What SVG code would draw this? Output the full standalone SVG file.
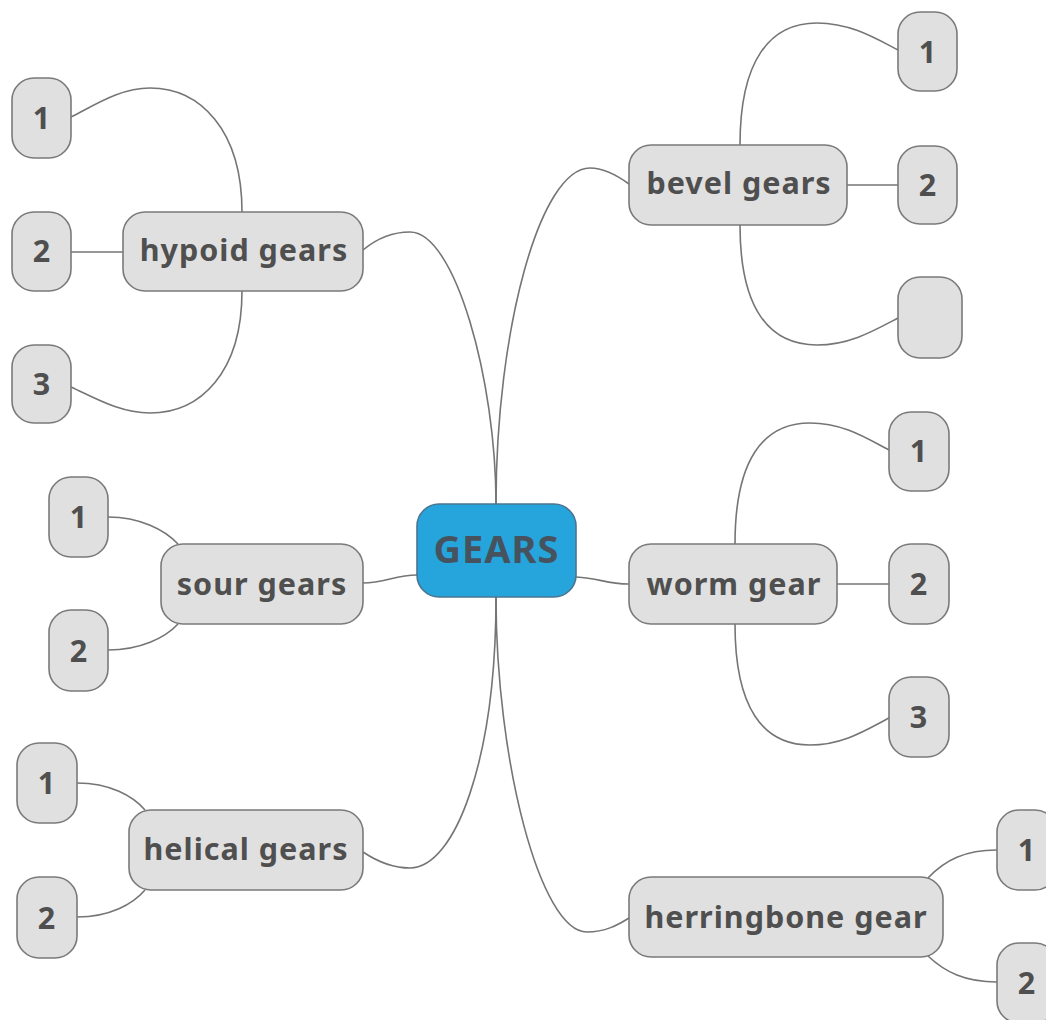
<svg xmlns="http://www.w3.org/2000/svg" width="1046" height="1020" viewBox="0 0 1046 1020">
<style>
.n rect{fill:#e0e0e0;stroke:#7a7a7a;stroke-width:1.6}
.n text{font-family:"Noto Sans","Open Sans",sans-serif;font-weight:bold;font-size:30.5px;fill:#4f4f4f;text-anchor:middle;letter-spacing:1px}
.c path{fill:none;stroke:#757575;stroke-width:1.6}
#gears rect{fill:#26a4dc;stroke:#4b7591;stroke-width:1.6}
#gears text{font-family:"Noto Sans","Open Sans",sans-serif;font-weight:bold;font-size:38px;fill:#46535f;text-anchor:middle;letter-spacing:1px}
</style>
<rect width="1046" height="1020" fill="#ffffff"/>
<g class="c" id="connectors">
<path d="M496,504 C496,380 455,232 410,232 C390,232 375,240 363,250"/>
<path d="M496,504 C496,330 540,168 590,168 C605,168 618,176 629,184"/>
<path d="M496,597 C496,760 455,868 410,868 C390,868 375,860 363,852"/>
<path d="M496,597 C496,760 540,932 587,932 C605,932 618,925 629,918"/>
<path d="M363,583 C385,583 395,575 417,575"/>
<path d="M576,577 C600,578 605,584 629,584"/>
<path d="M740,145 C740,60 770,23 817,23 C850,23 875,38 898,50"/>
<path d="M847,185 L898,185"/>
<path d="M740,225 C740,310 770,345 817,345 C850,345 875,330 898,318"/>
<path d="M242,212 C242,130 200,88 150,88 C120,88 95,105 71,117"/>
<path d="M71,252 L123,252"/>
<path d="M242,291 C242,373 200,413 150,413 C120,413 95,398 71,387"/>
<path d="M735,544 C735,460 763,423 810,423 C843,423 866,438 889,450"/>
<path d="M837,584 L889,584"/>
<path d="M735,624 C735,708 763,745 810,745 C843,745 866,730 889,718"/>
<path d="M108,517 C140,517 165,530 178,544"/>
<path d="M108,650 C140,650 165,638 178,624"/>
<path d="M77,783 C110,783 133,796 145,810"/>
<path d="M77,917 C110,917 133,904 145,890"/>
<path d="M928,878 C945,860 965,850 997,850"/>
<path d="M928,956 C945,972 965,982 997,982"/>
</g>
<g id="gears"><rect x="417" y="504" width="159" height="93" rx="22"/><text x="496.5" y="563">GEARS</text></g>
<g class="n" id="bevel"><rect x="629" y="145" width="218" height="80" rx="22"/><text x="739" y="194">bevel gears</text></g>
<g class="n" id="bevel-1"><rect x="898" y="12" width="59" height="79" rx="22"/><text x="928" y="63">1</text></g>
<g class="n" id="bevel-2"><rect x="898" y="146" width="59" height="78" rx="22"/><text x="928" y="196">2</text></g>
<g class="n" id="bevel-3"><rect x="898" y="277" width="64" height="81" rx="22"/></g>
<g class="n" id="hypoid"><rect x="123" y="212" width="240" height="79" rx="22"/><text x="244" y="261">hypoid gears</text></g>
<g class="n" id="hypoid-1"><rect x="12" y="78" width="59" height="80" rx="22"/><text x="42" y="129">1</text></g>
<g class="n" id="hypoid-2"><rect x="12" y="212" width="59" height="79" rx="22"/><text x="42" y="262">2</text></g>
<g class="n" id="hypoid-3"><rect x="12" y="345" width="59" height="78" rx="22"/><text x="42" y="395">3</text></g>
<g class="n" id="sour"><rect x="161" y="544" width="202" height="80" rx="22"/><text x="262" y="595">sour gears</text></g>
<g class="n" id="sour-1"><rect x="49" y="477" width="59" height="80" rx="22"/><text x="79" y="528">1</text></g>
<g class="n" id="sour-2"><rect x="49" y="610" width="59" height="81" rx="22"/><text x="79" y="662">2</text></g>
<g class="n" id="helical"><rect x="129" y="810" width="234" height="80" rx="22"/><text x="246" y="860">helical gears</text></g>
<g class="n" id="helical-1"><rect x="17" y="743" width="60" height="80" rx="22"/><text x="47" y="794">1</text></g>
<g class="n" id="helical-2"><rect x="17" y="877" width="60" height="81" rx="22"/><text x="47" y="929">2</text></g>
<g class="n" id="worm"><rect x="629" y="544" width="208" height="80" rx="22"/><text x="734" y="595">worm gear</text></g>
<g class="n" id="worm-1"><rect x="889" y="412" width="60" height="79" rx="22"/><text x="919" y="462">1</text></g>
<g class="n" id="worm-2"><rect x="889" y="544" width="60" height="80" rx="22"/><text x="919" y="595">2</text></g>
<g class="n" id="worm-3"><rect x="889" y="677" width="60" height="80" rx="22"/><text x="919" y="728">3</text></g>
<g class="n" id="herringbone"><rect x="629" y="877" width="314" height="80" rx="22"/><text x="786" y="928">herringbone gear</text></g>
<g class="n" id="herringbone-1"><rect x="997" y="810" width="60" height="80" rx="22"/><text x="1027" y="861">1</text></g>
<g class="n" id="herringbone-2"><rect x="997" y="943" width="60" height="80" rx="22"/><text x="1027" y="994">2</text></g>
</svg>
